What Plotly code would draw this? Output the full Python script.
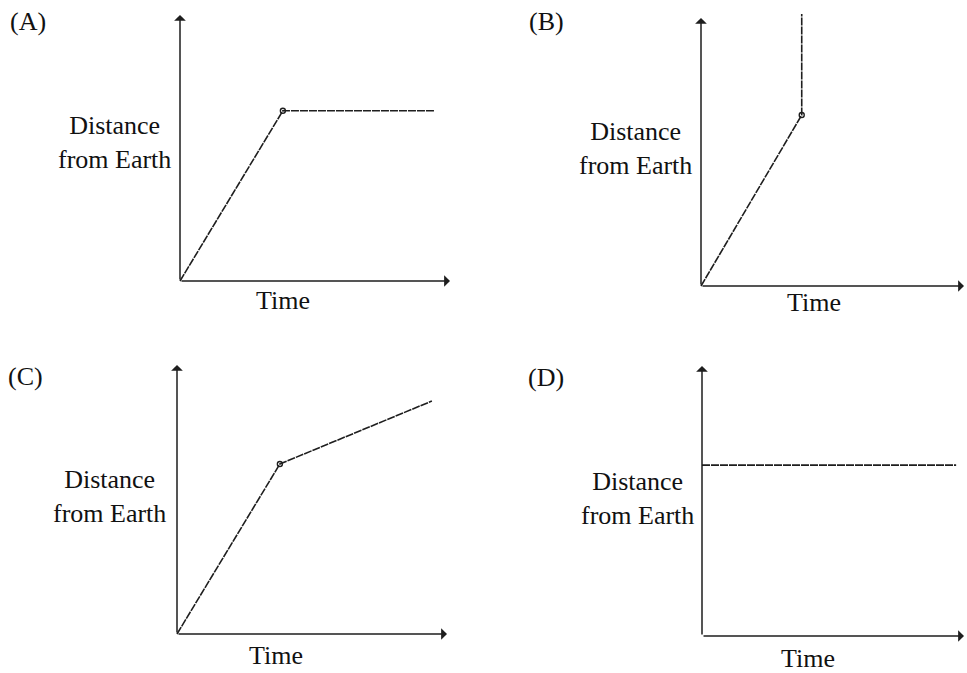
import plotly.graph_objects as go

W, H = 967, 673

# ---- data (arbitrary units: axis arrow tip = 10) ----
panel_labels = ["(A)", "(B)", "(C)", "(D)"]
y_label = "Distance<br>from Earth"
x_label = "Time"

time_A = [0, 3.81, 9.44]
dist_A = [0, 6.4, 6.4]

time_B = [0, 3.83, 3.83]
dist_B = [0, 6.38, 10.15]

time_C = [0, 3.81, 9.44]
dist_C = [0, 6.32, 8.66]

time_D = [0, 9.7]
dist_D = [6.33, 6.33]

kink_A = ([3.81], [6.4])
kink_B = ([3.83], [6.38])
kink_C = ([3.81], [6.32])

# ---- layout geometry in pixels: origin (ox, oy), arrow tips ----
panels = [
    dict(ox=180, oy=281, xt=450, yt=15, label=(28, 22), ylab=(114, 142), xlab=(283, 300)),
    dict(ox=701, oy=286, xt=964, yt=18, label=(546, 22), ylab=(635, 148), xlab=(814, 303)),
    dict(ox=177, oy=634, xt=447, yt=365, label=(25, 376), ylab=(109, 496), xlab=(276, 655)),
    dict(ox=702, oy=636, xt=964, yt=366, label=(546, 377), ylab=(637, 498), xlab=(808, 658)),
]
series = [(time_A, dist_A, kink_A), (time_B, dist_B, kink_B),
          (time_C, dist_C, kink_C), (time_D, dist_D, None)]

LINE = "#1e1e1e"
FONT = "Liberation Serif"
FS = 26

fig = go.Figure()
layout = dict(width=W, height=H, margin=dict(l=0, r=0, t=0, b=0),
              paper_bgcolor="white", plot_bgcolor="white", showlegend=False)
annotations = []

def px_x(p):
    return min(max(p / W, 0), 1)

def px_y(p):
    return min(max(1 - p / H, 0), 1)

for i, (p, (tx, dy, kink)) in enumerate(zip(panels, series)):
    n = "" if i == 0 else str(i + 1)
    xa, ya = "x" + n, "y" + n
    upx = (p["xt"] - p["ox"]) / 10.0
    upy = (p["oy"] - p["yt"]) / 10.0
    x0p, x1p = p["ox"] - 4, min(p["xt"] + 3, W)
    y0p, y1p = p["oy"] + 4, max(p["yt"] - 6, 0)
    layout["xaxis" + n] = dict(domain=[px_x(x0p), px_x(x1p)],
                               range=[(x0p - p["ox"]) / upx, (x1p - p["ox"]) / upx],
                               visible=False, fixedrange=True, anchor=ya)
    layout["yaxis" + n] = dict(domain=[px_y(y0p), px_y(y1p)],
                               range=[(p["oy"] - y0p) / upy, (p["oy"] - y1p) / upy],
                               visible=False, fixedrange=True, anchor=xa)
    # axes with arrowheads
    for (xe, ye) in [(10, 0), (0, 10)]:
        annotations.append(dict(x=xe, y=ye, ax=0, ay=0, xref=xa, yref=ya,
                                axref=xa, ayref=ya, showarrow=True, text="",
                                arrowhead=1, arrowsize=1.3, arrowwidth=1.5,
                                arrowcolor=LINE))
    fig.add_trace(go.Scatter(x=tx, y=dy, mode="lines", xaxis=xa, yaxis=ya,
                             line=dict(color=LINE, width=1.6, dash="8px,1px"),
                             hoverinfo="skip"))
    if kink is not None:
        fig.add_trace(go.Scatter(x=kink[0], y=kink[1], mode="markers", xaxis=xa, yaxis=ya,
                                 marker=dict(symbol="circle-open", size=5,
                                             color=LINE, line=dict(width=1.4)),
                                 hoverinfo="skip", cliponaxis=False))
    # texts
    lx, ly = p["label"]
    annotations.append(dict(x=px_x(lx), y=px_y(ly), xref="paper", yref="paper",
                            text=panel_labels[i], showarrow=False,
                            font=dict(family=FONT, size=FS, color="#111"),
                            xanchor="center", yanchor="middle"))
    cx, cy = p["ylab"]
    annotations.append(dict(x=px_x(cx), y=px_y(cy), xref="paper", yref="paper",
                            text=y_label, showarrow=False, align="center",
                            font=dict(family=FONT, size=FS, color="#111"),
                            xanchor="center", yanchor="middle"))
    tx_, ty_ = p["xlab"]
    annotations.append(dict(x=px_x(tx_), y=px_y(ty_), xref="paper", yref="paper",
                            text=x_label, showarrow=False,
                            font=dict(family=FONT, size=FS, color="#111"),
                            xanchor="center", yanchor="middle"))

layout["annotations"] = annotations
fig.update_layout(**layout)
fig.write_html("out.html", config={"displayModeBar": False},
               post_script="document.body.style.margin='0';document.body.style.overflow='hidden';")
